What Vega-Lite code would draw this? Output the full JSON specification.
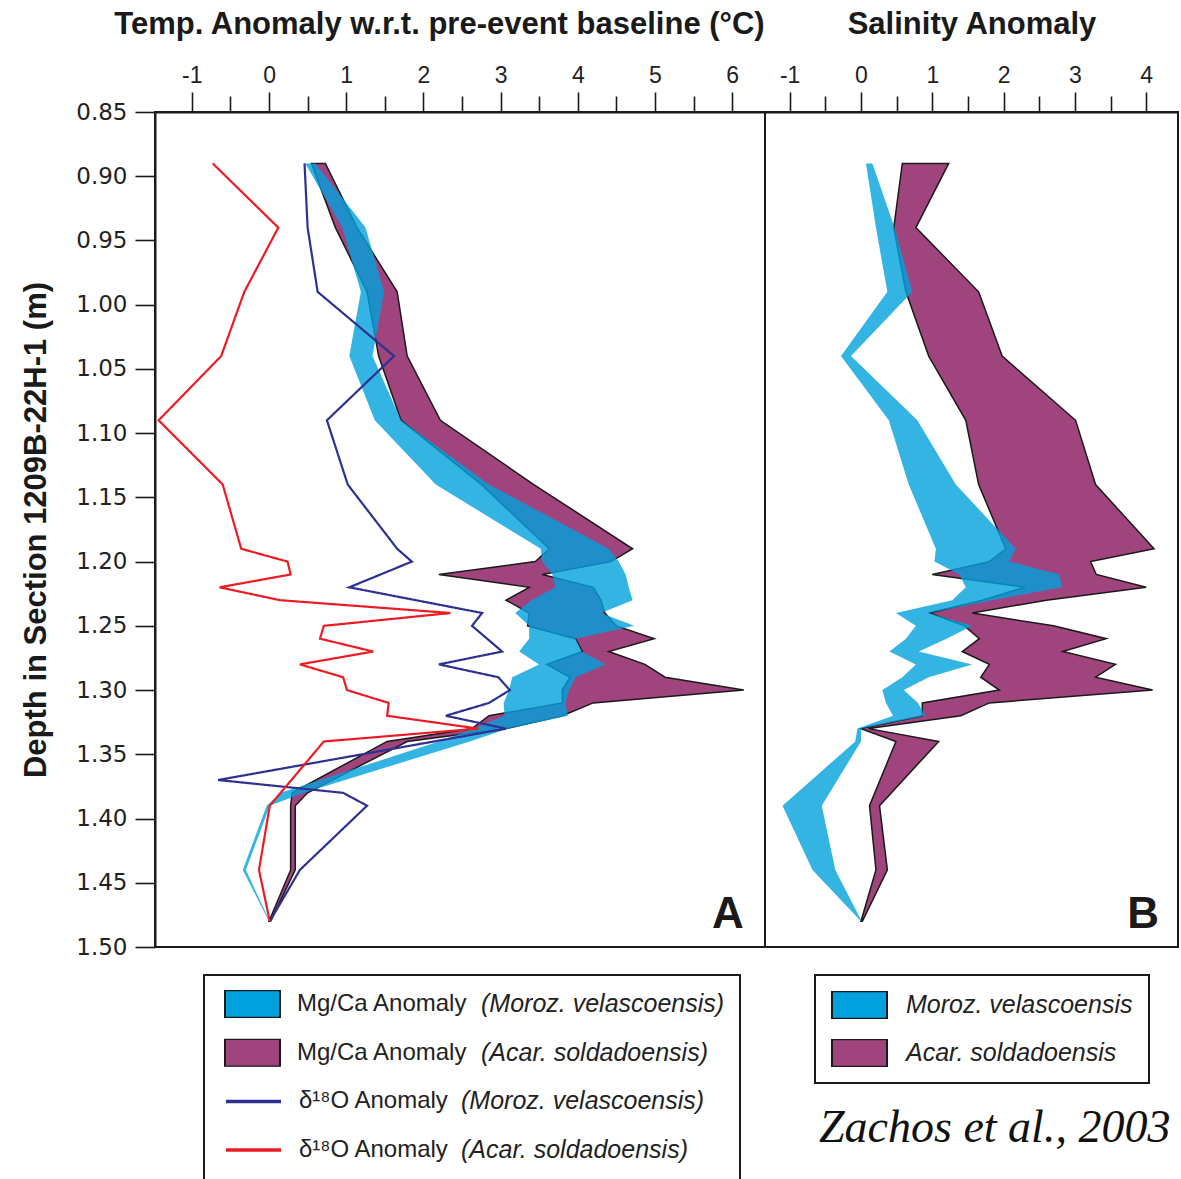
{
  "$schema": "https://vega.github.io/schema/vega-lite/v6.json",
  "background": "white",
  "padding": {"left": 19, "top": 7, "right": 0, "bottom": 0},
  "spacing": 0,
  "bounds": "flush",
  "datasets": {
    "mgca": [
      {"depth": 0.89, "series": "Mg/Ca Anomaly (Moroz. velascoensis)", "lo": 0.47, "hi": 0.60},
      {"depth": 0.94, "series": "Mg/Ca Anomaly (Moroz. velascoensis)", "lo": 0.95, "hi": 1.25},
      {"depth": 0.99, "series": "Mg/Ca Anomaly (Moroz. velascoensis)", "lo": 1.19, "hi": 1.49},
      {"depth": 1.04, "series": "Mg/Ca Anomaly (Moroz. velascoensis)", "lo": 1.04, "hi": 1.34},
      {"depth": 1.09, "series": "Mg/Ca Anomaly (Moroz. velascoensis)", "lo": 1.37, "hi": 1.71},
      {"depth": 1.14, "series": "Mg/Ca Anomaly (Moroz. velascoensis)", "lo": 2.16, "hi": 2.85},
      {"depth": 1.19, "series": "Mg/Ca Anomaly (Moroz. velascoensis)", "lo": 3.52, "hi": 4.40},
      {"depth": 1.20, "series": "Mg/Ca Anomaly (Moroz. velascoensis)", "lo": 3.54, "hi": 4.53},
      {"depth": 1.21, "series": "Mg/Ca Anomaly (Moroz. velascoensis)", "lo": 3.67, "hi": 4.62},
      {"depth": 1.22, "series": "Mg/Ca Anomaly (Moroz. velascoensis)", "lo": 3.71, "hi": 4.66},
      {"depth": 1.23, "series": "Mg/Ca Anomaly (Moroz. velascoensis)", "lo": 3.40, "hi": 4.71},
      {"depth": 1.24, "series": "Mg/Ca Anomaly (Moroz. velascoensis)", "lo": 3.19, "hi": 4.30},
      {"depth": 1.25, "series": "Mg/Ca Anomaly (Moroz. velascoensis)", "lo": 3.37, "hi": 4.73},
      {"depth": 1.26, "series": "Mg/Ca Anomaly (Moroz. velascoensis)", "lo": 3.37, "hi": 3.97},
      {"depth": 1.27, "series": "Mg/Ca Anomaly (Moroz. velascoensis)", "lo": 3.24, "hi": 4.05},
      {"depth": 1.28, "series": "Mg/Ca Anomaly (Moroz. velascoensis)", "lo": 3.50, "hi": 4.36},
      {"depth": 1.29, "series": "Mg/Ca Anomaly (Moroz. velascoensis)", "lo": 3.15, "hi": 3.97},
      {"depth": 1.30, "series": "Mg/Ca Anomaly (Moroz. velascoensis)", "lo": 3.11, "hi": 3.89},
      {"depth": 1.31, "series": "Mg/Ca Anomaly (Moroz. velascoensis)", "lo": 3.04, "hi": 3.84},
      {"depth": 1.32, "series": "Mg/Ca Anomaly (Moroz. velascoensis)", "lo": 3.05, "hi": 3.87},
      {"depth": 1.33, "series": "Mg/Ca Anomaly (Moroz. velascoensis)", "lo": 2.66, "hi": 3.10},
      {"depth": 1.34, "series": "Mg/Ca Anomaly (Moroz. velascoensis)", "lo": 2.20, "hi": 2.60},
      {"depth": 1.38, "series": "Mg/Ca Anomaly (Moroz. velascoensis)", "lo": 0.15, "hi": 0.45},
      {"depth": 1.39, "series": "Mg/Ca Anomaly (Moroz. velascoensis)", "lo": -0.03, "hi": 0.01},
      {"depth": 1.44, "series": "Mg/Ca Anomaly (Moroz. velascoensis)", "lo": -0.34, "hi": -0.30},
      {"depth": 1.48, "series": "Mg/Ca Anomaly (Moroz. velascoensis)", "lo": 0.00, "hi": 0.01},
      {"depth": 0.89, "series": "Mg/Ca Anomaly (Acar. soldadoensis)", "lo": 0.55, "hi": 0.73},
      {"depth": 0.94, "series": "Mg/Ca Anomaly (Acar. soldadoensis)", "lo": 0.86, "hi": 1.14},
      {"depth": 0.99, "series": "Mg/Ca Anomaly (Acar. soldadoensis)", "lo": 1.27, "hi": 1.66},
      {"depth": 1.04, "series": "Mg/Ca Anomaly (Acar. soldadoensis)", "lo": 1.42, "hi": 1.79},
      {"depth": 1.09, "series": "Mg/Ca Anomaly (Acar. soldadoensis)", "lo": 1.71, "hi": 2.22},
      {"depth": 1.14, "series": "Mg/Ca Anomaly (Acar. soldadoensis)", "lo": 2.75, "hi": 3.43},
      {"depth": 1.19, "series": "Mg/Ca Anomaly (Acar. soldadoensis)", "lo": 3.63, "hi": 4.71},
      {"depth": 1.20, "series": "Mg/Ca Anomaly (Acar. soldadoensis)", "lo": 3.45, "hi": 4.43},
      {"depth": 1.21, "series": "Mg/Ca Anomaly (Acar. soldadoensis)", "lo": 2.20, "hi": 3.54},
      {"depth": 1.22, "series": "Mg/Ca Anomaly (Acar. soldadoensis)", "lo": 3.37, "hi": 4.20},
      {"depth": 1.23, "series": "Mg/Ca Anomaly (Acar. soldadoensis)", "lo": 3.07, "hi": 4.30},
      {"depth": 1.24, "series": "Mg/Ca Anomaly (Acar. soldadoensis)", "lo": 3.37, "hi": 4.35},
      {"depth": 1.25, "series": "Mg/Ca Anomaly (Acar. soldadoensis)", "lo": 3.35, "hi": 4.50},
      {"depth": 1.26, "series": "Mg/Ca Anomaly (Acar. soldadoensis)", "lo": 3.97, "hi": 4.99},
      {"depth": 1.27, "series": "Mg/Ca Anomaly (Acar. soldadoensis)", "lo": 4.06, "hi": 4.40},
      {"depth": 1.28, "series": "Mg/Ca Anomaly (Acar. soldadoensis)", "lo": 3.60, "hi": 4.87},
      {"depth": 1.29, "series": "Mg/Ca Anomaly (Acar. soldadoensis)", "lo": 3.90, "hi": 5.13},
      {"depth": 1.30, "series": "Mg/Ca Anomaly (Acar. soldadoensis)", "lo": 3.80, "hi": 6.15},
      {"depth": 1.31, "series": "Mg/Ca Anomaly (Acar. soldadoensis)", "lo": 3.80, "hi": 4.20},
      {"depth": 1.32, "series": "Mg/Ca Anomaly (Acar. soldadoensis)", "lo": 2.85, "hi": 3.80},
      {"depth": 1.33, "series": "Mg/Ca Anomaly (Acar. soldadoensis)", "lo": 2.63, "hi": 3.07},
      {"depth": 1.34, "series": "Mg/Ca Anomaly (Acar. soldadoensis)", "lo": 1.53, "hi": 1.79},
      {"depth": 1.38, "series": "Mg/Ca Anomaly (Acar. soldadoensis)", "lo": 0.30, "hi": 0.50},
      {"depth": 1.39, "series": "Mg/Ca Anomaly (Acar. soldadoensis)", "lo": 0.28, "hi": 0.34},
      {"depth": 1.44, "series": "Mg/Ca Anomaly (Acar. soldadoensis)", "lo": 0.28, "hi": 0.34},
      {"depth": 1.48, "series": "Mg/Ca Anomaly (Acar. soldadoensis)", "lo": 0.00, "hi": 0.02}
    ],
    "d18o": [
      {"depth": 0.89, "series": "δ¹⁸O Anomaly (Moroz. velascoensis)", "temp": 0.46},
      {"depth": 0.94, "series": "δ¹⁸O Anomaly (Moroz. velascoensis)", "temp": 0.50},
      {"depth": 0.99, "series": "δ¹⁸O Anomaly (Moroz. velascoensis)", "temp": 0.63},
      {"depth": 1.04, "series": "δ¹⁸O Anomaly (Moroz. velascoensis)", "temp": 1.62},
      {"depth": 1.09, "series": "δ¹⁸O Anomaly (Moroz. velascoensis)", "temp": 0.75},
      {"depth": 1.14, "series": "δ¹⁸O Anomaly (Moroz. velascoensis)", "temp": 1.02},
      {"depth": 1.19, "series": "δ¹⁸O Anomaly (Moroz. velascoensis)", "temp": 1.66},
      {"depth": 1.20, "series": "δ¹⁸O Anomaly (Moroz. velascoensis)", "temp": 1.85},
      {"depth": 1.22, "series": "δ¹⁸O Anomaly (Moroz. velascoensis)", "temp": 1.04},
      {"depth": 1.24, "series": "δ¹⁸O Anomaly (Moroz. velascoensis)", "temp": 2.76},
      {"depth": 1.25, "series": "δ¹⁸O Anomaly (Moroz. velascoensis)", "temp": 2.63},
      {"depth": 1.27, "series": "δ¹⁸O Anomaly (Moroz. velascoensis)", "temp": 3.02},
      {"depth": 1.28, "series": "δ¹⁸O Anomaly (Moroz. velascoensis)", "temp": 2.20},
      {"depth": 1.29, "series": "δ¹⁸O Anomaly (Moroz. velascoensis)", "temp": 2.97},
      {"depth": 1.30, "series": "δ¹⁸O Anomaly (Moroz. velascoensis)", "temp": 3.12},
      {"depth": 1.31, "series": "δ¹⁸O Anomaly (Moroz. velascoensis)", "temp": 2.85},
      {"depth": 1.32, "series": "δ¹⁸O Anomaly (Moroz. velascoensis)", "temp": 2.29},
      {"depth": 1.33, "series": "δ¹⁸O Anomaly (Moroz. velascoensis)", "temp": 3.07},
      {"depth": 1.37, "series": "δ¹⁸O Anomaly (Moroz. velascoensis)", "temp": -0.66},
      {"depth": 1.38, "series": "δ¹⁸O Anomaly (Moroz. velascoensis)", "temp": 0.96},
      {"depth": 1.39, "series": "δ¹⁸O Anomaly (Moroz. velascoensis)", "temp": 1.27},
      {"depth": 1.44, "series": "δ¹⁸O Anomaly (Moroz. velascoensis)", "temp": 0.40},
      {"depth": 1.48, "series": "δ¹⁸O Anomaly (Moroz. velascoensis)", "temp": 0.01},
      {"depth": 0.89, "series": "δ¹⁸O Anomaly (Acar. soldadoensis)", "temp": -0.73},
      {"depth": 0.94, "series": "δ¹⁸O Anomaly (Acar. soldadoensis)", "temp": 0.12},
      {"depth": 0.99, "series": "δ¹⁸O Anomaly (Acar. soldadoensis)", "temp": -0.32},
      {"depth": 1.04, "series": "δ¹⁸O Anomaly (Acar. soldadoensis)", "temp": -0.62},
      {"depth": 1.09, "series": "δ¹⁸O Anomaly (Acar. soldadoensis)", "temp": -1.43},
      {"depth": 1.14, "series": "δ¹⁸O Anomaly (Acar. soldadoensis)", "temp": -0.60},
      {"depth": 1.19, "series": "δ¹⁸O Anomaly (Acar. soldadoensis)", "temp": -0.36},
      {"depth": 1.20, "series": "δ¹⁸O Anomaly (Acar. soldadoensis)", "temp": 0.24},
      {"depth": 1.21, "series": "δ¹⁸O Anomaly (Acar. soldadoensis)", "temp": 0.28},
      {"depth": 1.22, "series": "δ¹⁸O Anomaly (Acar. soldadoensis)", "temp": -0.64},
      {"depth": 1.23, "series": "δ¹⁸O Anomaly (Acar. soldadoensis)", "temp": 0.14},
      {"depth": 1.24, "series": "δ¹⁸O Anomaly (Acar. soldadoensis)", "temp": 2.35},
      {"depth": 1.25, "series": "δ¹⁸O Anomaly (Acar. soldadoensis)", "temp": 0.71},
      {"depth": 1.26, "series": "δ¹⁸O Anomaly (Acar. soldadoensis)", "temp": 0.66},
      {"depth": 1.27, "series": "δ¹⁸O Anomaly (Acar. soldadoensis)", "temp": 1.35},
      {"depth": 1.28, "series": "δ¹⁸O Anomaly (Acar. soldadoensis)", "temp": 0.40},
      {"depth": 1.29, "series": "δ¹⁸O Anomaly (Acar. soldadoensis)", "temp": 0.96},
      {"depth": 1.30, "series": "δ¹⁸O Anomaly (Acar. soldadoensis)", "temp": 1.01},
      {"depth": 1.31, "series": "δ¹⁸O Anomaly (Acar. soldadoensis)", "temp": 1.55},
      {"depth": 1.32, "series": "δ¹⁸O Anomaly (Acar. soldadoensis)", "temp": 1.53},
      {"depth": 1.33, "series": "δ¹⁸O Anomaly (Acar. soldadoensis)", "temp": 2.71},
      {"depth": 1.34, "series": "δ¹⁸O Anomaly (Acar. soldadoensis)", "temp": 0.71},
      {"depth": 1.39, "series": "δ¹⁸O Anomaly (Acar. soldadoensis)", "temp": 0.01},
      {"depth": 1.44, "series": "δ¹⁸O Anomaly (Acar. soldadoensis)", "temp": -0.13},
      {"depth": 1.48, "series": "δ¹⁸O Anomaly (Acar. soldadoensis)", "temp": 0.01}
    ],
    "salinity": [
      {"depth": 0.89, "species": "Moroz. velascoensis", "lo": 0.07, "hi": 0.16},
      {"depth": 0.94, "species": "Moroz. velascoensis", "lo": 0.21, "hi": 0.47},
      {"depth": 0.99, "species": "Moroz. velascoensis", "lo": 0.37, "hi": 0.72},
      {"depth": 1.04, "species": "Moroz. velascoensis", "lo": -0.28, "hi": -0.14},
      {"depth": 1.09, "species": "Moroz. velascoensis", "lo": 0.39, "hi": 0.79},
      {"depth": 1.14, "species": "Moroz. velascoensis", "lo": 0.67, "hi": 1.33},
      {"depth": 1.19, "species": "Moroz. velascoensis", "lo": 1.05, "hi": 2.17},
      {"depth": 1.20, "species": "Moroz. velascoensis", "lo": 1.03, "hi": 2.08},
      {"depth": 1.21, "species": "Moroz. velascoensis", "lo": 1.38, "hi": 2.78},
      {"depth": 1.22, "species": "Moroz. velascoensis", "lo": 1.47, "hi": 2.82},
      {"depth": 1.23, "species": "Moroz. velascoensis", "lo": 1.28, "hi": 1.84},
      {"depth": 1.24, "species": "Moroz. velascoensis", "lo": 0.49, "hi": 0.95},
      {"depth": 1.25, "species": "Moroz. velascoensis", "lo": 0.77, "hi": 1.56},
      {"depth": 1.26, "species": "Moroz. velascoensis", "lo": 0.63, "hi": 1.20},
      {"depth": 1.27, "species": "Moroz. velascoensis", "lo": 0.40, "hi": 0.81},
      {"depth": 1.28, "species": "Moroz. velascoensis", "lo": 0.77, "hi": 1.56},
      {"depth": 1.29, "species": "Moroz. velascoensis", "lo": 0.58, "hi": 0.95},
      {"depth": 1.30, "species": "Moroz. velascoensis", "lo": 0.30, "hi": 0.60},
      {"depth": 1.31, "species": "Moroz. velascoensis", "lo": 0.35, "hi": 0.80},
      {"depth": 1.32, "species": "Moroz. velascoensis", "lo": 0.45, "hi": 0.90},
      {"depth": 1.33, "species": "Moroz. velascoensis", "lo": -0.05, "hi": 0.00},
      {"depth": 1.34, "species": "Moroz. velascoensis", "lo": -0.08, "hi": 0.00},
      {"depth": 1.39, "species": "Moroz. velascoensis", "lo": -1.10, "hi": -0.55},
      {"depth": 1.44, "species": "Moroz. velascoensis", "lo": -0.68, "hi": -0.36},
      {"depth": 1.48, "species": "Moroz. velascoensis", "lo": 0.00, "hi": 0.01},
      {"depth": 0.89, "species": "Acar. soldadoensis", "lo": 0.58, "hi": 1.23},
      {"depth": 0.94, "species": "Acar. soldadoensis", "lo": 0.46, "hi": 0.77},
      {"depth": 0.99, "species": "Acar. soldadoensis", "lo": 0.63, "hi": 1.65},
      {"depth": 1.04, "species": "Acar. soldadoensis", "lo": 0.95, "hi": 1.98},
      {"depth": 1.09, "species": "Acar. soldadoensis", "lo": 1.47, "hi": 3.01},
      {"depth": 1.14, "species": "Acar. soldadoensis", "lo": 1.65, "hi": 3.29},
      {"depth": 1.19, "species": "Acar. soldadoensis", "lo": 2.03, "hi": 4.11},
      {"depth": 1.20, "species": "Acar. soldadoensis", "lo": 1.80, "hi": 3.22},
      {"depth": 1.21, "species": "Acar. soldadoensis", "lo": 1.00, "hi": 3.30},
      {"depth": 1.22, "species": "Acar. soldadoensis", "lo": 2.30, "hi": 4.00},
      {"depth": 1.23, "species": "Acar. soldadoensis", "lo": 1.70, "hi": 2.60},
      {"depth": 1.24, "species": "Acar. soldadoensis", "lo": 0.96, "hi": 1.56},
      {"depth": 1.25, "species": "Acar. soldadoensis", "lo": 1.45, "hi": 2.70},
      {"depth": 1.26, "species": "Acar. soldadoensis", "lo": 1.66, "hi": 3.44},
      {"depth": 1.27, "species": "Acar. soldadoensis", "lo": 1.42, "hi": 2.83},
      {"depth": 1.28, "species": "Acar. soldadoensis", "lo": 1.80, "hi": 3.57},
      {"depth": 1.29, "species": "Acar. soldadoensis", "lo": 1.68, "hi": 3.29},
      {"depth": 1.30, "species": "Acar. soldadoensis", "lo": 1.94, "hi": 4.09},
      {"depth": 1.31, "species": "Acar. soldadoensis", "lo": 0.86, "hi": 1.80},
      {"depth": 1.32, "species": "Acar. soldadoensis", "lo": 0.86, "hi": 1.40},
      {"depth": 1.33, "species": "Acar. soldadoensis", "lo": 0.00, "hi": 0.11},
      {"depth": 1.34, "species": "Acar. soldadoensis", "lo": 0.49, "hi": 1.09},
      {"depth": 1.39, "species": "Acar. soldadoensis", "lo": 0.12, "hi": 0.26},
      {"depth": 1.44, "species": "Acar. soldadoensis", "lo": 0.21, "hi": 0.37},
      {"depth": 1.48, "species": "Acar. soldadoensis", "lo": 0.00, "hi": 0.02}
    ]
  },
  "hconcat": [
    {
      "width": 610,
      "height": 835,
      "resolve": {"axis": {"x": "independent", "y": "independent"}},
      "layer": [
        {
          "data": {"name": "mgca"},
          "transform": [{"filter": "datum.series === 'Mg/Ca Anomaly (Acar. soldadoensis)'"}],
          "mark": {"type": "area", "orient": "horizontal", "stroke": "#1a1a1a", "strokeWidth": 1.5},
          "encoding": {
            "y": {
              "field": "depth", "type": "quantitative",
              "scale": {"domain": [0.85, 1.5], "reverse": true, "nice": false, "zero": false},
              "axis": {
                "orient": "left",
                "title": "Depth in Section 1209B-22H-1 (m)",
                "values": [0.85, 0.9, 0.95, 1.0, 1.05, 1.1, 1.15, 1.2, 1.25, 1.3, 1.35, 1.4, 1.45, 1.5],
                "format": ".2f", "tickSize": 20, "labelPadding": 8,
                "labelFont": "DejaVu Sans", "labelFontSize": 23, "titlePadding": 23
              }
            },
            "x": {
              "field": "lo", "type": "quantitative",
              "scale": {"domain": [-1.477, 6.425], "nice": false, "zero": false},
              "axis": {
                "orient": "top",
                "title": "Temp. Anomaly w.r.t. pre-event baseline (°C)",
                "values": [-1, 0, 1, 2, 3, 4, 5, 6],
                "tickSize": 20,
                "labelExpr": "replace(datum.label, '−', '-')",
                "labelPadding": 5, "titlePadding": 24, "titleX": 284
              }
            },
            "x2": {"field": "hi"},
            "fill": {
              "field": "series", "type": "nominal",
              "scale": {
                "domain": ["Mg/Ca Anomaly (Moroz. velascoensis)", "Mg/Ca Anomaly (Acar. soldadoensis)"],
                "range": ["#00a1dc", "#a0447e"]
              },
              "legend": {
                "title": null, "orient": "none", "legendX": 69, "legendY": 878,
                "symbolType": "M-1,-0.5H1V0.5H-1Z", "symbolStrokeColor": "#1a1a1a", "symbolStrokeWidth": 2,
                "labelExpr": "split(datum.label, ' (')[0]", "labelOffset": 16, "rowPadding": 20.7,
                "encode": {"symbols": {"update": {"stroke": {"value": "#1a1a1a"}, "strokeWidth": {"value": 2}}}}
              }
            }
          }
        },
        {
          "data": {"name": "mgca"},
          "transform": [{"filter": "datum.series === 'Mg/Ca Anomaly (Moroz. velascoensis)'"}],
          "mark": {"type": "area", "orient": "horizontal", "opacity": 0.8},
          "encoding": {
            "y": {"field": "depth", "type": "quantitative", "scale": {"domain": [0.85, 1.5], "reverse": true, "nice": false, "zero": false}, "axis": null},
            "x": {"field": "lo", "type": "quantitative", "scale": {"domain": [-1.477, 6.425], "nice": false, "zero": false}, "axis": null},
            "x2": {"field": "hi"},
            "fill": {"field": "series", "type": "nominal"}
          }
        },
        {
          "data": {"name": "d18o"},
          "mark": {"type": "line", "strokeWidth": 2.2},
          "encoding": {
            "y": {"field": "depth", "type": "quantitative", "scale": {"domain": [0.85, 1.5], "reverse": true, "nice": false, "zero": false}, "axis": null},
            "x": {
              "field": "temp", "type": "quantitative",
              "scale": {"domain": [-1.477, 6.425], "nice": false, "zero": false},
              "axis": {
                "orient": "top", "title": null, "labels": false, "domain": false,
                "values": [-0.5, 0.5, 1.5, 2.5, 3.5, 4.5, 5.5], "tickSize": 16
              }
            },
            "order": {"field": "depth", "type": "quantitative"},
            "stroke": {
              "field": "series", "type": "nominal",
              "scale": {
                "domain": ["δ¹⁸O Anomaly (Moroz. velascoensis)", "δ¹⁸O Anomaly (Acar. soldadoensis)"],
                "range": ["#2e3192", "#ed1c24"]
              },
              "legend": {
                "title": null, "orient": "none", "legendX": 69, "legendY": 975.4,
                "symbolType": "stroke", "symbolStrokeWidth": 3.5,
                "labelExpr": "split(datum.label, ' (')[0]", "labelOffset": 16, "rowPadding": 20.7
              }
            },
            "strokeDash": {
              "field": "series", "type": "nominal",
              "scale": {
                "domain": [
                  "Mg/Ca Anomaly (Moroz. velascoensis)", "Mg/Ca Anomaly (Acar. soldadoensis)",
                  "δ¹⁸O Anomaly (Moroz. velascoensis)", "δ¹⁸O Anomaly (Acar. soldadoensis)"
                ],
                "range": [[1, 0], [1, 0], [1, 0], [1, 0]]
              },
              "legend": {
                "title": null, "orient": "none", "legendX": 49, "legendY": 863,
                "padding": 15, "strokeColor": "#1a1a1a",
                "symbolType": "M-1,-0.5H1V0.5H-1Z", "symbolOpacity": 0,
                "labelExpr": "'(' + split(datum.label, ' (')[1]", "labelFontStyle": "italic",
                "labelFontSize": 25, "labelOffset": 205, "rowPadding": 20.7,
                "encode": {
                  "legend": {"update": {"strokeWidth": {"value": 2}}},
                  "symbols": {"update": {"opacity": {"value": 0}}},
                  "labels": {"update": {"dx": {"signal": "indexof(datum.value, 'δ') === 0 ? -20 : 0"}}}
                }
              }
            }
          }
        },
        {
          "data": {"values": [{"panel": "A"}]},
          "mark": {"type": "text", "fontSize": 44, "fontWeight": "bold", "align": "right", "baseline": "alphabetic", "color": "#1a1a1a"},
          "encoding": {
            "x": {"datum": 6.15, "type": "quantitative", "scale": {"domain": [-1.477, 6.425], "nice": false, "zero": false}, "axis": null},
            "y": {"datum": 1.485, "type": "quantitative", "scale": {"domain": [0.85, 1.5], "reverse": true, "nice": false, "zero": false}, "axis": null},
            "text": {"field": "panel"}
          }
        }
      ]
    },
    {
      "width": 413,
      "height": 835,
      "resolve": {"axis": {"x": "independent", "y": "independent"}},
      "title": {
        "text": "Zachos et al., 2003", "orient": "bottom", "anchor": "start", "frame": "group",
        "dx": 54, "offset": 22, "font": "Liberation Serif", "fontSize": 46,
        "fontStyle": "italic", "fontWeight": "normal", "color": "#111111"
      },
      "layer": [
        {
          "data": {"name": "salinity"},
          "transform": [{"filter": "datum.species === 'Acar. soldadoensis'"}],
          "mark": {"type": "area", "orient": "horizontal", "stroke": "#1a1a1a", "strokeWidth": 1.5},
          "encoding": {
            "y": {"field": "depth", "type": "quantitative", "scale": {"domain": [0.85, 1.5], "reverse": true, "nice": false, "zero": false}, "axis": null},
            "x": {
              "field": "lo", "type": "quantitative",
              "scale": {"domain": [-1.346, 4.446], "nice": false, "zero": false},
              "axis": {
                "orient": "top",
                "title": "Salinity Anomaly",
                "values": [-1, 0, 1, 2, 3, 4],
                "tickSize": 20,
                "labelExpr": "replace(datum.label, '−', '-')",
                "labelPadding": 5, "titlePadding": 24
              }
            },
            "x2": {"field": "hi"},
            "fill": {
              "field": "species", "type": "nominal",
              "scale": {"domain": ["Moroz. velascoensis", "Acar. soldadoensis"], "range": ["#00a1dc", "#a0447e"]},
              "legend": {
                "title": null, "orient": "none", "legendX": 50, "legendY": 863,
                "padding": 16, "strokeColor": "#1a1a1a",
                "symbolType": "M-1,-0.5H1V0.5H-1Z", "symbolStrokeColor": "#1a1a1a", "symbolStrokeWidth": 2,
                "labelFontStyle": "italic", "labelFontSize": 25, "labelOffset": 18, "rowPadding": 20,
                "encode": {
                  "legend": {"update": {"strokeWidth": {"value": 2}}},
                  "symbols": {"update": {"stroke": {"value": "#1a1a1a"}, "strokeWidth": {"value": 2}}}
                }
              }
            }
          }
        },
        {
          "data": {"name": "salinity"},
          "transform": [{"filter": "datum.species === 'Moroz. velascoensis'"}],
          "mark": {"type": "area", "orient": "horizontal", "opacity": 0.8},
          "encoding": {
            "y": {"field": "depth", "type": "quantitative", "scale": {"domain": [0.85, 1.5], "reverse": true, "nice": false, "zero": false}, "axis": null},
            "x": {
              "field": "lo", "type": "quantitative",
              "scale": {"domain": [-1.346, 4.446], "nice": false, "zero": false},
              "axis": {
                "orient": "top", "title": null, "labels": false, "domain": false,
                "values": [-0.5, 0.5, 1.5, 2.5, 3.5], "tickSize": 16
              }
            },
            "x2": {"field": "hi"},
            "fill": {"field": "species", "type": "nominal"}
          }
        },
        {
          "data": {"values": [{"panel": "B"}]},
          "mark": {"type": "text", "fontSize": 44, "fontWeight": "bold", "align": "right", "baseline": "alphabetic", "color": "#1a1a1a"},
          "encoding": {
            "x": {"datum": 4.18, "type": "quantitative", "scale": {"domain": [-1.346, 4.446], "nice": false, "zero": false}, "axis": null},
            "y": {"datum": 1.485, "type": "quantitative", "scale": {"domain": [0.85, 1.5], "reverse": true, "nice": false, "zero": false}, "axis": null},
            "text": {"field": "panel"}
          }
        }
      ]
    }
  ],
  "resolve": {
    "scale": {"x": "independent", "y": "independent", "fill": "independent", "stroke": "independent", "strokeDash": "independent"},
    "legend": {"fill": "independent", "stroke": "independent", "strokeDash": "independent"}
  },
  "config": {
    "font": "Liberation Sans",
    "view": {"stroke": "#1a1a1a", "strokeWidth": 2},
    "axis": {
      "grid": false, "domainColor": "#1a1a1a", "domainWidth": 2, "tickColor": "#1a1a1a", "tickWidth": 1.6,
      "labelColor": "#222222", "titleColor": "#1a1a1a", "labelFont": "Liberation Sans", "labelFontSize": 23,
      "titleFont": "Liberation Sans", "titleFontSize": 31, "titleFontWeight": "bold",
      "labelFlush": false, "labelOverlap": false
    },
    "legend": {
      "labelFont": "Liberation Sans", "labelFontSize": 24, "labelColor": "#222222", "labelLimit": 0,
      "clipHeight": 28, "symbolSize": 3025, "padding": 0
    }
  }
}
